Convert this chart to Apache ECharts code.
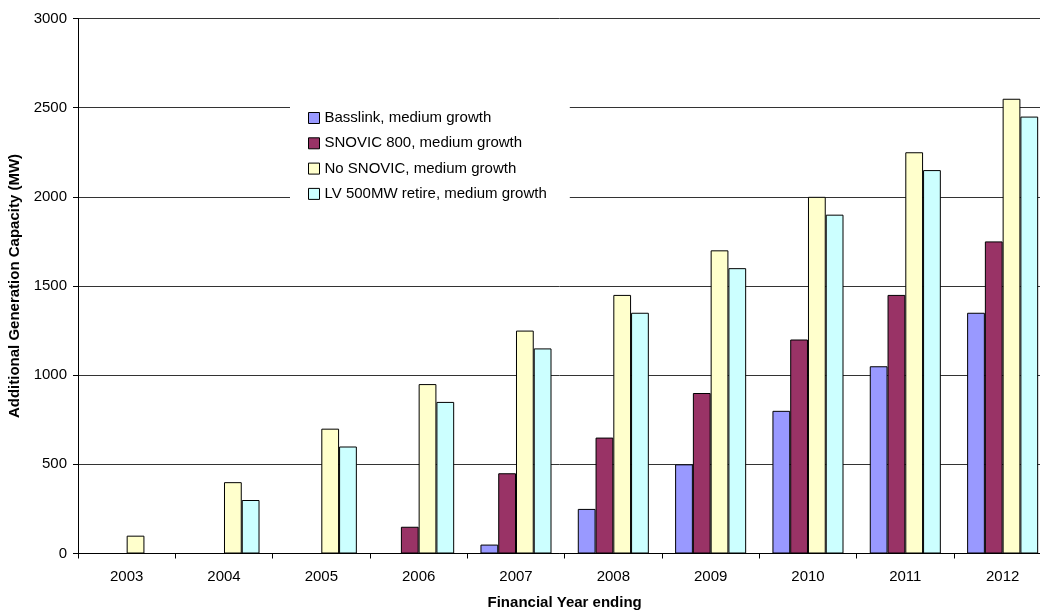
<!DOCTYPE html>
<html>
<head>
<meta charset="utf-8">
<title>Additional Generation Capacity</title>
<script src="https://cdn.jsdelivr.net/npm/echarts@6/dist/echarts.min.js"></script>
<style>
  html, body { margin: 0; padding: 0; background: #fff; }
  #chart { width: 1040px; height: 610px; }
</style>
</head>
<body>
<div id="chart"></div>
<script>
// Financial years (x axis categories)
const years = ['2003', '2004', '2005', '2006', '2007', '2008', '2009', '2010', '2011', '2012'];

// Additional generation capacity required (MW) for each scenario
const basslink = [0, 0, 0, 0, 50, 250, 500, 800, 1050, 1350];
const snovic800 = [0, 0, 0, 150, 450, 650, 900, 1200, 1450, 1750];
const noSnovic = [100, 400, 700, 950, 1250, 1450, 1700, 2000, 2250, 2550];
const lvRetire = [0, 300, 600, 850, 1150, 1350, 1600, 1900, 2150, 2450];

const seriesNames = [
  'Basslink, medium growth',
  'SNOVIC 800, medium growth',
  'No SNOVIC, medium growth',
  'LV 500MW retire, medium growth'
];

const FONT = '"Liberation Sans", Arial, sans-serif';
const colors = ['#9999FF', '#993366', '#FFFFCC', '#CCFFFF'];
const seriesData = [basslink, snovic800, noSnovic, lvRetire];

const chart = echarts.init(document.getElementById('chart'), null, { renderer: 'canvas' });

chart.setOption({
  animation: false,
  backgroundColor: '#ffffff',
  textStyle: { fontFamily: FONT },
  grid: {
    left: 78,
    top: 18.5,
    width: 973.3,
    bottom: 56.5,
    containLabel: false,
    outerBoundsMode: 'none'
  },
  legend: {
    orient: 'vertical',
    left: 290,
    top: 96.5,
    padding: [14, 23, 14, 18],
    backgroundColor: '#ffffff',
    itemWidth: 11,
    itemHeight: 11,
    itemGap: 10.3,
    icon: 'rect',
    itemStyle: { borderColor: '#000', borderWidth: 1 },
    textStyle: { fontFamily: FONT, fontSize: 15, color: '#000', lineHeight: 15 },
    data: seriesNames
  },
  xAxis: {
    type: 'category',
    data: years,
    name: 'Financial Year ending',
    nameLocation: 'middle',
    nameGap: 42,
    nameTextStyle: { fontFamily: FONT, fontSize: 15, fontWeight: 'bold', color: '#000' },
    axisLine: { lineStyle: { color: '#000', width: 1 } },
    axisTick: { show: true, length: 5, lineStyle: { color: '#000' } },
    axisLabel: { fontFamily: FONT, fontSize: 15, color: '#000', margin: 16 },
    splitLine: { show: false }
  },
  yAxis: {
    type: 'value',
    min: 0,
    max: 3000,
    interval: 500,
    name: 'Additional Generation Capacity (MW)',
    nameLocation: 'middle',
    nameGap: 55,
    nameRotate: 90,
    nameTextStyle: { fontFamily: FONT, fontSize: 15, fontWeight: 'bold', color: '#000' },
    axisLine: { show: true, lineStyle: { color: '#000', width: 1 } },
    axisTick: { show: true, length: 5, lineStyle: { color: '#000' } },
    axisLabel: {
      fontFamily: FONT, fontSize: 15, color: '#000', margin: 11,
      formatter: (v) => String(v)
    },
    splitLine: { show: true, lineStyle: { color: '#333', width: 1 } }
  },
  series: seriesNames.map((name, i) => ({
    name: name,
    type: 'bar',
    data: seriesData[i],
    barGap: '0%',
    barCategoryGap: '27%',
    itemStyle: { color: colors[i], borderColor: '#000', borderWidth: 1 }
  }))
});
</script>
</body>
</html>
